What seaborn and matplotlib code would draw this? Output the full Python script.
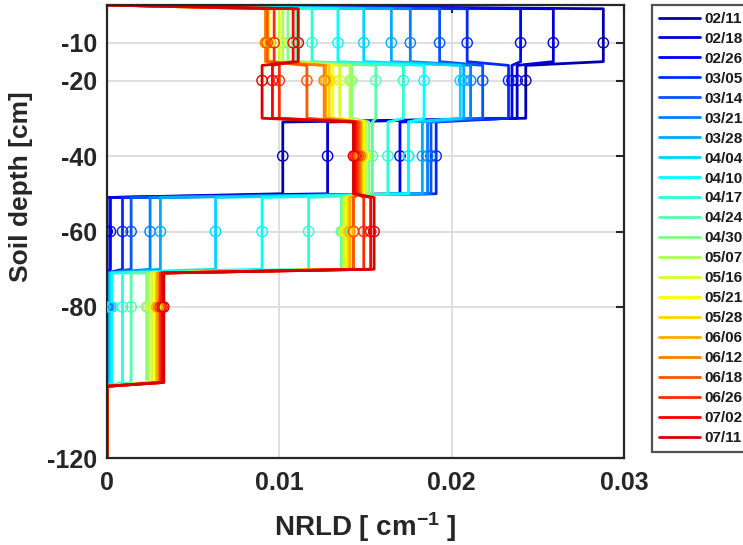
import numpy as np
import pandas as pd
import matplotlib
matplotlib.use("Agg")
import matplotlib.pyplot as plt
import seaborn as sns

# ---------------- data ----------------
dates = ["02/11", "02/18", "02/26", "03/05", "03/14", "03/21", "03/28", "04/04",
         "04/10", "04/17", "04/24", "04/30", "05/07", "05/16", "05/21", "05/28",
         "06/06", "06/12", "06/18", "06/26", "07/02", "07/11"]

depth_centers = [-10, -20, -40, -60, -80]
layer_tops = [0, -15, -30, -50, -70]
layer_bottoms = [-15, -30, -50, -70, -100]
profile_bottom = -120

nrld_10 = [0.0288, 0.0259, 0.0240, 0.0209, 0.0193, 0.0176, 0.0165, 0.0149,
           0.0134, 0.0119, 0.0110, 0.0105, 0.0102, 0.0100, 0.0094, 0.0093,
           0.0092, 0.0092, 0.0093, 0.0097, 0.0108, 0.0111]
nrld_20 = [0.0243, 0.0238, 0.0235, 0.0233, 0.0218, 0.0211, 0.0207, 0.0205,
           0.0184, 0.0172, 0.0156, 0.0142, 0.0141, 0.0135, 0.0131, 0.0129,
           0.0127, 0.0126, 0.0116, 0.0100, 0.0096, 0.0090]
nrld_40 = [0.0102, 0.0128, 0.0170, 0.0191, 0.0188, 0.0186, 0.0183, 0.0175,
           0.0175, 0.0163, 0.0154, 0.0152, 0.0150, 0.0149, 0.0149, 0.0148,
           0.0147, 0.0147, 0.0146, 0.0145, 0.0144, 0.0143]
nrld_60 = [0.0000, 0.0000, 0.0002, 0.0009, 0.0014, 0.0025, 0.0031, 0.0063,
           0.0090, 0.0117, 0.0136, 0.0137, 0.0137, 0.0138, 0.0139, 0.0140,
           0.0141, 0.0143, 0.0143, 0.0149, 0.0153, 0.0155]
nrld_80 = [0.0000, 0.0000, 0.0000, 0.0000, 0.0000, 0.0000, 0.0001, 0.0002,
           0.0003, 0.0009, 0.0014, 0.0023, 0.0024, 0.0026, 0.0028, 0.0029,
           0.0029, 0.0030, 0.0031, 0.0031, 0.0032, 0.0033]

xticks = [0, 0.01, 0.02, 0.03]
xticklabels = ["0", "0.01", "0.02", "0.03"]
yticks = [-120, -80, -60, -40, -20, -10]
yticklabels = ["-120", "-80", "-60", "-40", "-20", "-10"]

# ---------------- colours (MATLAB jet(22)) ----------------
def matlab_jet(m):
    n = int(np.ceil(m / 4))
    u = np.concatenate([np.arange(1, n + 1) / n, np.ones(n - 1), np.arange(n, 0, -1) / n])
    g = int(np.ceil(n / 2)) - (1 if m % 4 == 1 else 0) + np.arange(1, len(u) + 1)
    r = g + n
    b = g - n
    J = np.zeros((m, 3))
    for idx, val in zip(r, u):
        if 1 <= idx <= m:
            J[idx - 1, 0] = val
    for idx, val in zip(g, u):
        if 1 <= idx <= m:
            J[idx - 1, 1] = val
    for idx, val in zip(b, u):
        if 1 <= idx <= m:
            J[idx - 1, 2] = val
    return [tuple(c) for c in J]

colors = matlab_jet(len(dates))
palette = dict(zip(dates, colors))

# ---------------- build tables ----------------
layers = [nrld_10, nrld_20, nrld_40, nrld_60, nrld_80]
rows = []
pts = []
for i, d in enumerate(dates):
    vals = [lay[i] for lay in layers]
    xs = [0.0]
    ys = [layer_tops[0]]
    for v, t, b in zip(vals, layer_tops, layer_bottoms):
        xs += [v, v]
        ys += [t - 1, b]
    xs += [0.0, 0.0]
    ys += [layer_bottoms[-1] - 1, profile_bottom]
    for k, (x, y) in enumerate(zip(xs, ys)):
        rows.append({"date": d, "k": k, "nrld": x, "depth": y})
    for v, dc in zip(vals, depth_centers):
        pts.append({"date": d, "nrld": v, "depth": dc})
df = pd.DataFrame(rows)
dp = pd.DataFrame(pts)

# ---------------- plot ----------------
sns.set_theme(style="white")
plt.rcParams["font.family"] = ["Liberation Sans", "DejaVu Sans"]
plt.rcParams["font.weight"] = "bold"
plt.rcParams["mathtext.fontset"] = "custom"
plt.rcParams["mathtext.rm"] = "Liberation Sans:bold"
plt.rcParams["mathtext.bf"] = "Liberation Sans:bold"
plt.rcParams["mathtext.default"] = "bf"

fig = plt.figure(figsize=(7.43, 5.45), dpi=100)
ax = fig.add_axes([107 / 743, 1 - 458 / 545, (624 - 107) / 743, (458 - 5) / 545])

sns.lineplot(data=df, x="nrld", y="depth", hue="date", hue_order=dates,
             palette=palette, sort=False, estimator=None, linewidth=2.0,
             ax=ax, legend=True)
sns.scatterplot(data=dp, x="nrld", y="depth", hue="date", hue_order=dates,
                palette=palette, s=55, linewidth=1.0, ax=ax, legend=False,
                zorder=3)
coll = ax.collections[-1]
fc = coll.get_facecolors()
coll.set_edgecolors(fc)
coll.set_facecolors("none")

ax.set_xlim(0, 0.03)
ax.set_ylim(-120, 0)
ax.set_xticks(xticks)
ax.set_xticklabels(xticklabels)
ax.set_yticks(yticks)
ax.set_yticklabels(yticklabels)
ax.grid(True, color="#dcdcdc", linewidth=1.3)
ax.set_axisbelow(True)
ax.tick_params(direction="in", top=True, right=True, length=6, width=1.5,
               labelsize=18, colors="#262626")
ax.tick_params(axis="x", pad=9)
ax.tick_params(axis="y", pad=7)
for lab in ax.get_xticklabels() + ax.get_yticklabels():
    lab.set_fontweight("bold")
for sp in ax.spines.values():
    sp.set_visible(True)
    sp.set_color("#262626")
    sp.set_linewidth(1.6)

ax.set_xlabel("NRLD [ cm$^{-1}$ ]", fontsize=20, fontweight="bold", color="#262626")
ax.set_ylabel("Soil depth [cm]", fontsize=19, fontweight="bold", color="#262626")
ax.xaxis.set_label_coords(0.5, -0.115)
ax.yaxis.set_label_coords(-0.143, 0.6)

handles, labels = ax.get_legend_handles_labels()
for h in handles:
    h.set_linewidth(2.0)
leg = ax.legend(handles, labels, loc="upper left",
                bbox_to_anchor=(652 / 743, 1 - 5 / 545), bbox_transform=fig.transFigure,
                frameon=True, fancybox=False, fontsize=11, handlelength=2.7,
                handletextpad=0.3, labelspacing=0.39, borderpad=0.45,
                borderaxespad=0)
leg.get_frame().set_edgecolor("#262626")
leg.get_frame().set_linewidth(1.6)
for t in leg.get_texts():
    t.set_fontweight("bold")
    t.set_color("#1a1a1a")

fig.savefig("out.png", dpi=100)
